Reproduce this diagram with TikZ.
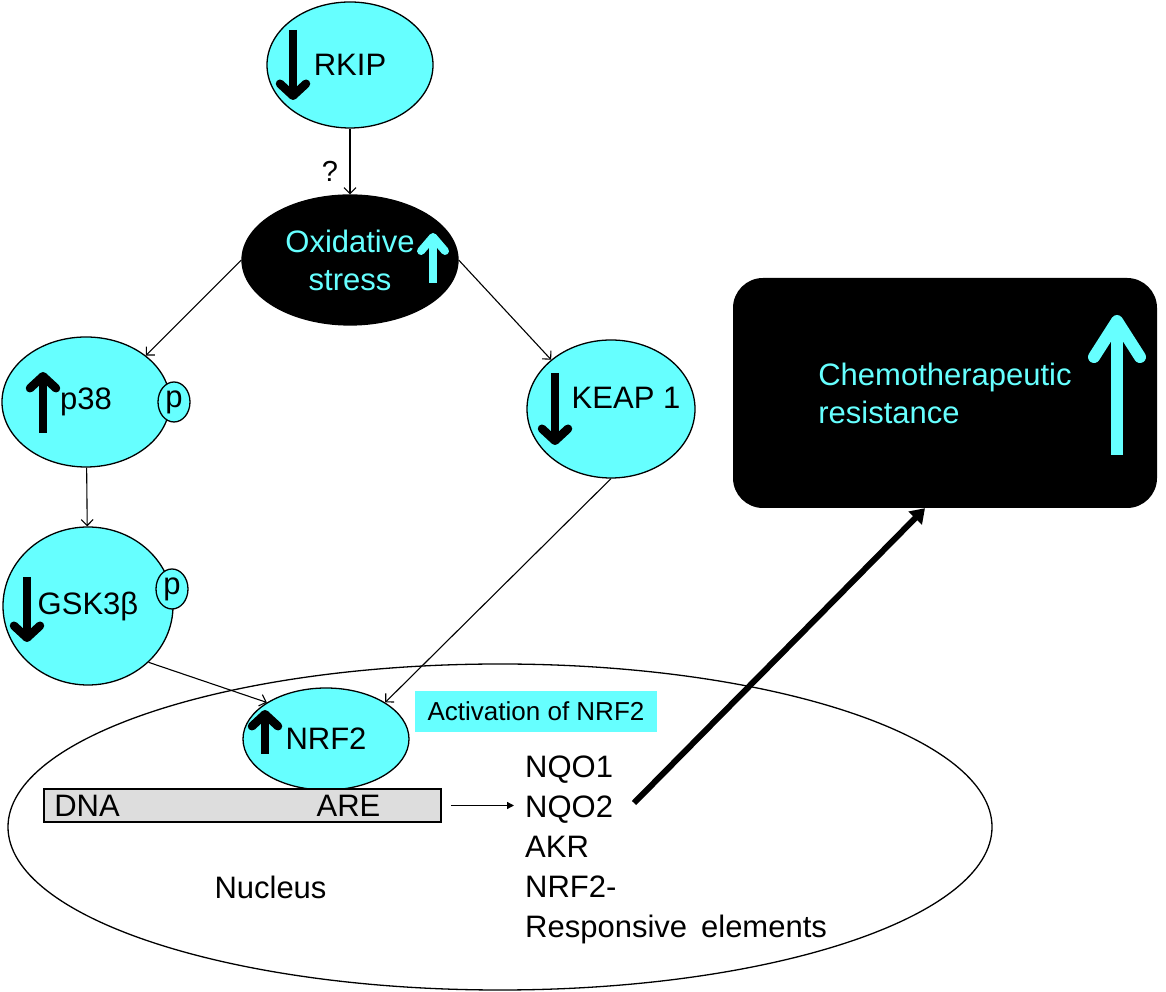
\documentclass[tikz,border=0pt]{standalone}
\usepackage{fontspec}
\setmainfont{Liberation Sans}
\usepackage{xcolor}
\usetikzlibrary{shapes.geometric, positioning, arrows.meta}

\definecolor{aqua}{RGB}{102,255,255}
\definecolor{dnagrey}{RGB}{221,221,221}

\tikzset{
  cell/.style={ellipse, draw, fill=aqua, line width=1.3pt, inner sep=0pt, font=\fontsize{31}{37}\selectfont},
  phos/.style={ellipse, draw, fill=aqua, line width=1.3pt, inner sep=0pt, minimum width=32pt, minimum height=40pt, font=\fontsize{31}{37}\selectfont},
  stress/.style={ellipse, draw, fill=black, text=aqua, align=center, line width=1.3pt, inner sep=0pt, minimum width=216pt, minimum height=130pt, font=\fontsize{31}{38}\selectfont},
  actbox/.style={rectangle, fill=aqua, inner sep=0pt, minimum width=242pt, minimum height=41pt, font=\fontsize{26}{30}\selectfont},
  dnabox/.style={rectangle, draw, fill=dnagrey, line width=1.8pt, inner sep=0pt, minimum width=397pt, minimum height=33pt},
  resist/.style={rectangle, rounded corners=30pt, fill=black, text=aqua, align=left, minimum width=424pt, minimum height=230pt, font=\fontsize{31}{38}\selectfont},
  txt/.style={inner sep=0pt, font=\fontsize{31}{40}\selectfont},
  qmark/.style={font=\fontsize{29}{32}\selectfont},
  link/.style={line width=1.1pt, -{Straight Barb[length=6pt, width=12pt]}},
  small/.style={line width=1.3pt, -{Triangle[length=7pt, width=7pt]}},
  heavy/.style={line width=6pt, -{Triangle[length=14pt, width=18pt]}},
  fall/.style={line width=8.5pt, -{Straight Barb[length=12pt, width=26pt, round]}},
  glow/.style={aqua, line width=8pt, -{Straight Barb[length=14pt, width=24pt, round]}},
  bigglow/.style={aqua, line width=12pt, -{Straight Barb[length=36pt, width=46pt, round]}}
}

\begin{document}
\begin{tikzpicture}[x=1pt, y=1pt, node distance=195pt]
  \useasboundingbox (0,0) rectangle (1166,992);

  % nucleus
  \node[ellipse, draw, line width=1.3pt, minimum width=984pt, minimum height=326pt] (nucleus) at (500,165) {};
  \node[txt] (nuclbl) at (270.5,105) {Nucleus};

  \node[cell, minimum width=166pt, minimum height=126pt] (rkip) at (350,927) {RKIP};
  \node[stress, below of=rkip] (oxi) {Oxidative\\stress};
  \node[cell, minimum width=168pt, minimum height=130pt] (p38) at (86,590) {p38};
  \node[phos] (p38p) at ([xshift=88pt]p38.center) {p};
  \node[cell, minimum width=170pt, minimum height=158pt] (gsk) at (88,386) {GSK3β};
  \node[phos] (gskp) at ([xshift=84pt,yshift=17pt]gsk.center) {p};
  \node[cell, minimum width=168pt, minimum height=138pt] (keap) at (611,583) {};
  \node[txt] (keaplbl) at ([xshift=15pt,yshift=11pt]keap.center) {KEAP 1};
  \node[cell, minimum width=166pt, minimum height=102pt] (nrf2) at (326,253) {NRF2};
  \node[actbox] (act) at (536,280.5) {Activation of NRF2};
  \node[dnabox] (dna) at (242.5,186.5) {};
  \node[txt, anchor=west] (dnalbl) at ([xshift=11pt]dna.west) {DNA};
  \node[txt] (are) at ([xshift=106pt]dna.center) {ARE};
  \node[txt, align=left, anchor=west] (genes) at (525,142) {NQO1\\NQO2\\AKR\\NRF2-\\Responsive\hspace{14pt}elements};
  \node[resist] (chemo) at (945,599) {Chemotherapeutic\\resistance};

  % connectors
  \draw[link] (rkip) -- node[pos=0.65, left=8pt, qmark] {?} (oxi);
  \draw[link] (oxi.west) -- (p38.north east);
  \draw[link] (oxi.east) -- (keap.north west);
  \draw[link] (p38) -- (gsk);
  \draw[link] (gsk.south east) -- (nrf2.north west);
  \draw[link] (keap.south) -- (nrf2.north east);
  \draw[small] ([xshift=9pt]dna.east) -- ([xshift=-11pt]dna.east -| genes.west);
  \coordinate (nqo2) at (634,189);
  \draw[heavy] (nqo2) -- ([xshift=-20pt]chemo.south);

  % up and down marks
  \draw[fall] ([xshift=-57pt,yshift=35pt]rkip.center) -- ++(0,-70);
  \draw[glow] ([xshift=83pt,yshift=-23pt]oxi.center) -- ++(0,50);
  \draw[fall] ([xshift=-43pt,yshift=-31pt]p38.center) -- ++(0,61);
  \draw[fall] ([xshift=-61pt,yshift=29pt]gsk.center) -- ++(0,-65);
  \draw[fall] ([xshift=-56pt,yshift=36pt]keap.center) -- ++(0,-72);
  \draw[fall] ([xshift=-61pt,yshift=-15pt]nrf2.center) -- ++(0,44);
  \draw[bigglow] ([xshift=172pt,yshift=-62pt]chemo.center) -- ++(0,140);
\end{tikzpicture}
\end{document}
